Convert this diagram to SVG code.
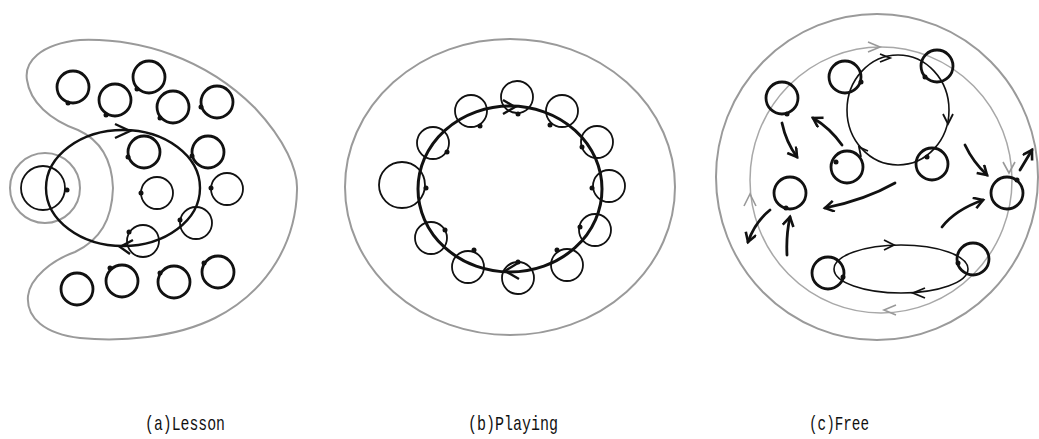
<svg xmlns="http://www.w3.org/2000/svg" width="1039" height="439" viewBox="0 0 1039 439">
<style>
.bg{fill:#fff}
.zone{fill:none;stroke:#9a9a9a;stroke-width:2}
.zone2{fill:none;stroke:#a8a8a8;stroke-width:1.5}
.p{fill:none;stroke:#111;stroke-width:2.8}
.pt{fill:none;stroke:#111;stroke-width:1.8}
.n{fill:#111}
.path{fill:none;stroke:#111;stroke-width:2.4}
.patht{fill:none;stroke:#111;stroke-width:1.6}
.chev{fill:none;stroke:#111;stroke-width:2.4;stroke-linejoin:miter}
.chevg{fill:none;stroke:#999;stroke-width:1.6}
.mv{fill:none;stroke:#111;stroke-width:2.8;stroke-linecap:round}
.lbl{font-family:"Liberation Mono",monospace;font-size:21px;fill:#111}
</style>
<defs>
<marker id="ah" markerUnits="userSpaceOnUse" markerWidth="16" markerHeight="16" refX="10" refY="6" orient="auto">
<path d="M1,0.5 L10,6 L1,11.5" fill="none" stroke="#111" stroke-width="2.6"/>
</marker>
</defs>
<rect class="bg" x="0" y="0" width="1039" height="439"/>

<!-- Panel (a) Lesson -->
<g id="panel-a">
<path class="zone" d="M27,80 C24,62 40,44 80,40 C140,38 205,58 255,108 C285,140 298,170 297,190 C296,240 270,290 215,318 C175,338 120,342 80,338 C45,334 26,318 28,296 C30,278 52,260 75,252 C100,240 112,220 113,188 C112,160 100,140 78,130 C50,120 30,102 27,80 Z"/>
<circle class="zone" cx="45" cy="188" r="35"/>
<g id="a-ring">
<ellipse class="path" cx="123" cy="188" rx="77" ry="58"/>
<polyline class="chev" points="115,124 130,131 115,138"/>
<polyline class="chev" points="133,240 120,247 130,254"/>
</g>
<g id="a-teacher"><circle class="pt" cx="43" cy="188" r="22"/><circle class="n" cx="67" cy="190" r="2.5"/></g>
<g id="a-p1"><circle class="p" cx="73" cy="87" r="16"/><circle class="n" cx="68" cy="103" r="2.5"/></g>
<g id="a-p2"><circle class="p" cx="115" cy="100" r="16"/><circle class="n" cx="106" cy="115" r="2.5"/></g>
<g id="a-p3"><circle class="p" cx="149" cy="77" r="16"/><circle class="n" cx="137" cy="89" r="2.5"/></g>
<g id="a-p4"><circle class="p" cx="173" cy="107" r="16"/><circle class="n" cx="160" cy="118" r="2.5"/></g>
<g id="a-p5"><circle class="p" cx="217" cy="102" r="16"/><circle class="n" cx="201" cy="107" r="2.5"/></g>
<g id="a-p6"><circle class="p" cx="144" cy="152" r="16"/><circle class="n" cx="128" cy="157" r="2.5"/></g>
<g id="a-p7"><circle class="p" cx="208" cy="152" r="16"/><circle class="n" cx="192" cy="156" r="2.5"/></g>
<g id="a-p8"><circle class="pt" cx="157" cy="193" r="16"/><circle class="n" cx="141" cy="193" r="2.5"/></g>
<g id="a-p9"><circle class="pt" cx="227" cy="189" r="16"/><circle class="n" cx="211" cy="188" r="2.5"/></g>
<g id="a-p10"><circle class="pt" cx="196" cy="223" r="16"/><circle class="n" cx="180" cy="220" r="2.5"/></g>
<g id="a-p11"><circle class="pt" cx="143" cy="241" r="16"/><circle class="n" cx="129" cy="232" r="2.5"/></g>
<g id="a-p12"><circle class="p" cx="77" cy="289" r="16"/></g>
<g id="a-p13"><circle class="p" cx="122" cy="281" r="16"/><circle class="n" cx="110" cy="268" r="2.5"/></g>
<g id="a-p14"><circle class="p" cx="174" cy="282" r="16"/><circle class="n" cx="160" cy="273" r="2.5"/></g>
<g id="a-p15"><circle class="p" cx="218" cy="272" r="16"/><circle class="n" cx="204" cy="263" r="2.5"/></g>
</g>

<!-- Panel (b) Playing -->
<g id="panel-b">
<ellipse class="zone" cx="510" cy="187" rx="165" ry="148"/>
<g id="b-ring">
<ellipse class="path" cx="510" cy="189" rx="92" ry="83" style="stroke-width:3"/>
<polyline class="chev" points="503,100 515,107 503,114"/>
<polyline class="chev" points="518,263 505,271 519,279"/>
</g>
<g id="b-p1"><circle class="pt" cx="517" cy="97" r="16"/><circle class="n" cx="518" cy="114" r="2.5"/></g>
<g id="b-p2"><circle class="pt" cx="471" cy="111" r="16"/><circle class="n" cx="480" cy="126" r="2.5"/></g>
<g id="b-p3"><circle class="pt" cx="562" cy="111" r="16"/><circle class="n" cx="550" cy="125" r="2.5"/></g>
<g id="b-p4"><circle class="pt" cx="433" cy="143" r="16"/><circle class="n" cx="447" cy="152" r="2.5"/></g>
<g id="b-p5"><circle class="pt" cx="597" cy="142" r="16"/><circle class="n" cx="582" cy="147" r="2.5"/></g>
<g id="b-p6"><circle class="pt" cx="402" cy="185" r="23"/><circle class="n" cx="426" cy="188" r="2.5"/></g>
<g id="b-p7"><circle class="pt" cx="609" cy="186" r="16"/><circle class="n" cx="592" cy="188" r="2.5"/></g>
<g id="b-p8"><circle class="pt" cx="431" cy="238" r="16"/><circle class="n" cx="445" cy="230" r="2.5"/></g>
<g id="b-p9"><circle class="pt" cx="595" cy="230" r="16"/><circle class="n" cx="580" cy="227" r="2.5"/></g>
<g id="b-p10"><circle class="pt" cx="468" cy="267" r="16"/><circle class="n" cx="474" cy="250" r="2.5"/></g>
<g id="b-p11"><circle class="pt" cx="567" cy="265" r="16"/><circle class="n" cx="557" cy="250" r="2.5"/></g>
<g id="b-p12"><circle class="pt" cx="518" cy="278" r="16"/><circle class="n" cx="518" cy="262" r="2.5"/></g>
</g>

<!-- Panel (c) Free -->
<g id="panel-c">
<ellipse class="zone" cx="877" cy="177" rx="161" ry="163"/>
<ellipse class="zone2" cx="881" cy="180" rx="131" ry="133"/>
<polyline class="chevg" points="868,42 880,47 868,52"/>
<polyline class="chevg" points="1003,162 1009,173 1015,162"/>
<polyline class="chevg" points="896,305 884,310 896,315"/>
<polyline class="chevg" points="744,206 750,194 756,206"/>
<g id="c-ring-top">
<ellipse class="patht" cx="898" cy="110" rx="51" ry="55"/>
<polyline class="chev" style="stroke-width:1.8" points="880,54 890,58 880,62"/>
<polyline class="chev" style="stroke-width:1.8" points="943,114 948,124 953,114"/>
<polyline class="chev" style="stroke-width:1.8" points="868,151 859,147 861,157"/>
</g>
<g id="c-ring-bottom">
<ellipse class="patht" cx="901" cy="269" rx="67" ry="24"/>
<polyline class="chev" style="stroke-width:1.8" points="884,240 894,245 884,250"/>
<polyline class="chev" style="stroke-width:1.8" points="925,288 913,293 925,298"/>
</g>
<g id="c-p1"><circle class="p" cx="845" cy="77" r="16"/><circle class="n" cx="861" cy="82" r="2.5"/></g>
<g id="c-p2"><circle class="p" cx="937" cy="66" r="16"/><circle class="n" cx="925" cy="77" r="2.5"/></g>
<g id="c-p3"><circle class="p" cx="847" cy="167" r="16"/><circle class="n" cx="836" cy="162" r="2.5"/></g>
<g id="c-p4"><circle class="p" cx="932" cy="164" r="16"/><circle class="n" cx="927" cy="157" r="2.5"/></g>
<g id="c-p5"><circle class="p" cx="782" cy="98" r="16"/><circle class="n" cx="787" cy="114" r="2.5"/></g>
<g id="c-p6"><circle class="p" cx="790" cy="193" r="16"/><circle class="n" cx="786" cy="208" r="2.5"/></g>
<g id="c-p7"><circle class="p" cx="1007" cy="193" r="16"/><circle class="n" cx="1017" cy="180" r="2.5"/></g>
<g id="c-p8"><circle class="p" cx="828" cy="273" r="16"/><circle class="n" cx="843" cy="277" r="2.5"/></g>
<g id="c-p9"><circle class="p" cx="973" cy="259" r="16"/><circle class="n" cx="958" cy="263" r="2.5"/></g>
</g>

<g id="connectors">
<path class="mv" d="M782,123 Q786,142 797,157" marker-end="url(#ah)"/>
<path class="mv" d="M842,145 Q830,128 813,118" marker-end="url(#ah)"/>
<path class="mv" d="M895,183 Q865,200 825,208" marker-end="url(#ah)"/>
<path class="mv" d="M965,145 Q973,162 987,175" marker-end="url(#ah)"/>
<path class="mv" d="M1020,170 L1032,150" marker-end="url(#ah)"/>
<path class="mv" d="M942,227 Q955,210 983,200" marker-end="url(#ah)"/>
<path class="mv" d="M770,210 Q755,222 748,242" marker-end="url(#ah)"/>
<path class="mv" d="M787,255 Q786,235 790,217" marker-end="url(#ah)"/>
</g>

<g id="labels">
<text class="lbl" x="145" y="430" textLength="80" lengthAdjust="spacingAndGlyphs">(a)Lesson</text>
<text class="lbl" x="468" y="430" textLength="90" lengthAdjust="spacingAndGlyphs">(b)Playing</text>
<text class="lbl" x="809" y="430" textLength="60" lengthAdjust="spacingAndGlyphs">(c)Free</text>
</g>
</svg>
